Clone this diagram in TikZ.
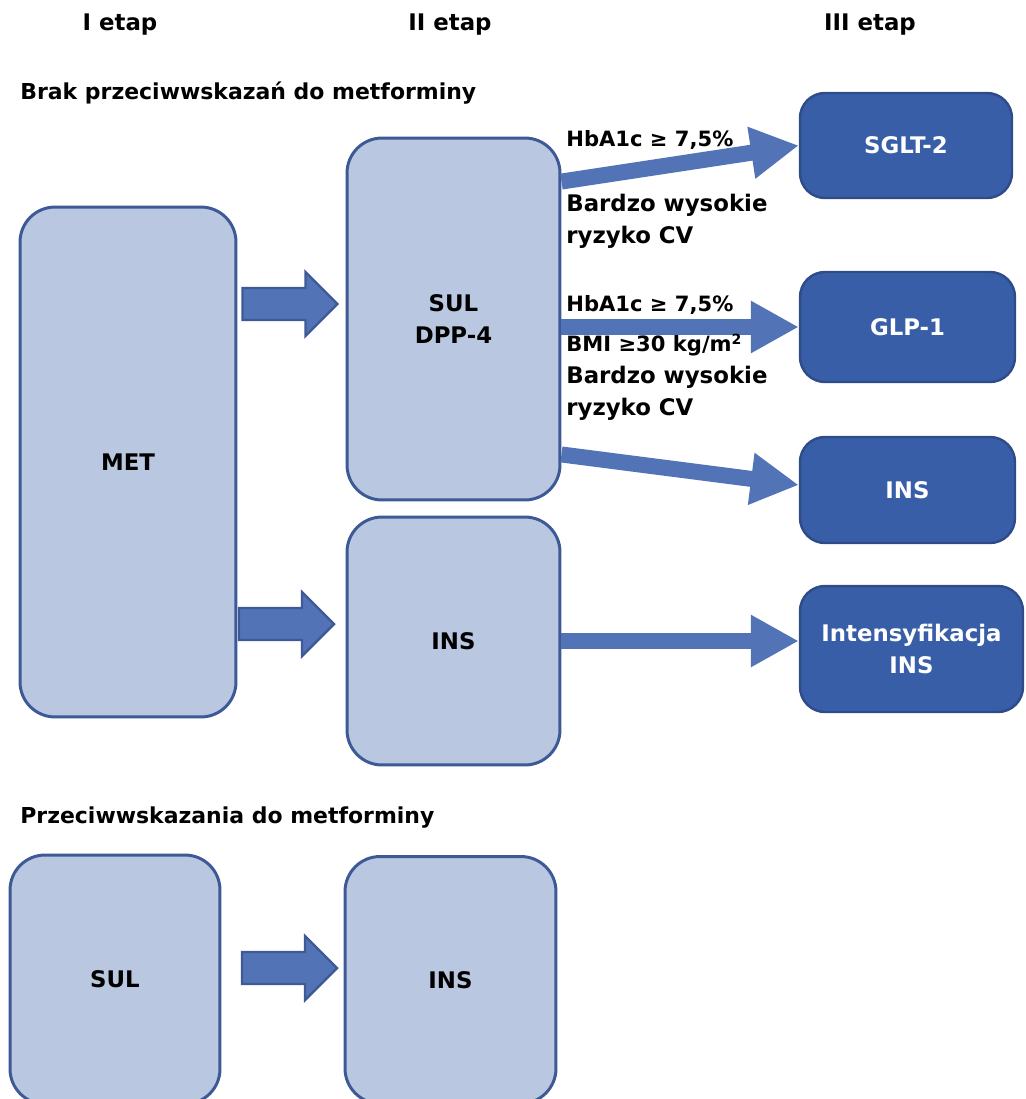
\documentclass[tikz,border=0pt]{standalone}
\usepackage{fontspec}
\setmainfont{DejaVu Sans}
\usetikzlibrary{positioning, arrows.meta, calc}
\definecolor{boxlight}{RGB}{185,199,225}
\definecolor{boxline}{RGB}{62,90,150}
\definecolor{boxdark}{RGB}{57,94,168}
\definecolor{boxdarkline}{RGB}{47,76,138}
\definecolor{arrowblue}{RGB}{82,116,183}
\newcommand{\lbl}{\fontsize{13}{18}\selectfont\bfseries}
\newcommand{\lblsmall}{\fontsize{12}{18}\selectfont}
\tikzset{
  lightbox/.style={draw=boxline, line width=1.7pt, fill=boxlight, rounded corners=0.7cm, font=\lbl, align=center},
  darkbox/.style={draw=boxdarkline, line width=1.4pt, fill=boxdark, rounded corners=0.5cm, text=white, font=\lbl, align=center},
  blockarr/.pic={
    \draw[boxline, line width=1.4pt, fill=arrowblue]
      (-47,-16) -- (16,-16) -- (16,-32) -- (48,0) -- (16,32) -- (16,16) -- (-47,16) -- cycle;
  },
  flow/.style={draw=arrowblue, line width=0.32cm, -{Triangle[length=0.96cm, width=0.98cm]}},
  note/.style={anchor=west, inner sep=0pt, align=left, font=\lbl},
  heading/.style={anchor=west, inner sep=0pt, font=\fontsize{12.5}{18}\selectfont\bfseries}
}

\begin{document}
\begin{tikzpicture}[x=0.02cm, y=-0.02cm]
    \clip (0,0) rectangle (1025,1099);
    % naglowki
    \node[font=\lbl] (st1) at (120,25) {I etap};
    \node[font=\lbl] (st2) at (450,25) {II etap};
    \node[font=\lbl] (st3) at (870,25) {III etap};
    \node[heading] (brak) at (20,93) {Brak przeciwwskazań do metforminy};
    \node[heading] (przec) at (20,818) {Przeciwwskazania do metforminy};

    % I i II etap
    \node[lightbox, minimum width=4.32cm, minimum height=10.2cm] (met) at (128,462) {MET};
    \node[lightbox, minimum width=4.26cm, minimum height=7.24cm] (sul) at (453.5,319) {SUL\\DPP-4};
    \node[lightbox, minimum width=4.26cm, minimum height=4.96cm] (ins) at (453.5,641) {INS};

    % III etap
    \node[darkbox, minimum width=4.24cm, minimum height=2.1cm] (sglt) at (906,145.5) {SGLT-2};
    \node[darkbox, minimum width=4.3cm, minimum height=2.2cm] (glp) at (907.5,327) {GLP-1};
    \node[darkbox, minimum width=4.3cm, minimum height=2.12cm] (insb) at (907.5,490) {INS};
    \node[darkbox, minimum width=4.46cm, minimum height=2.52cm] (intens) at (911.5,649) {Intensyfikacja\\INS};

    % przeciwwskazania
    \node[lightbox, minimum width=4.2cm, minimum height=4.98cm] (sulp) at (115,979.5) {SUL};
    \node[lightbox, minimum width=4.22cm, minimum height=4.94cm] (insp) at (450.5,980) {INS};

    \pic (a1) at (289.5,304) {blockarr};
    \pic (a2) at (286,624) {blockarr};
    \pic (a3) at (289,968) {blockarr};

    \draw[flow] ($(sul.north east)+(0,45)$) -- (sglt.west);
    \draw[flow] (glp.west -| sul.east) -- (glp.west);
    \draw[flow] ($(sul.south east)+(0,-47)$) -- ($(insb.west)+(0,-5)$);
    \draw[flow] (ins.east) -- (ins.east -| intens.west);

    \node[note] (c1) at (566,140) {\lblsmall HbA1c ≥ 7,5\%};
    \node[note] (c2) at (566,221) {Bardzo wysokie\\ryzyko CV};
    \node[note] (c3) at (566,305) {\lblsmall HbA1c ≥ 7,5\%};
    \node[note] (c4) at (566,377) {{\lblsmall BMI ≥30 kg/m\textsuperscript{2}}\\Bardzo wysokie\\ryzyko CV};
\end{tikzpicture}
\end{document}
